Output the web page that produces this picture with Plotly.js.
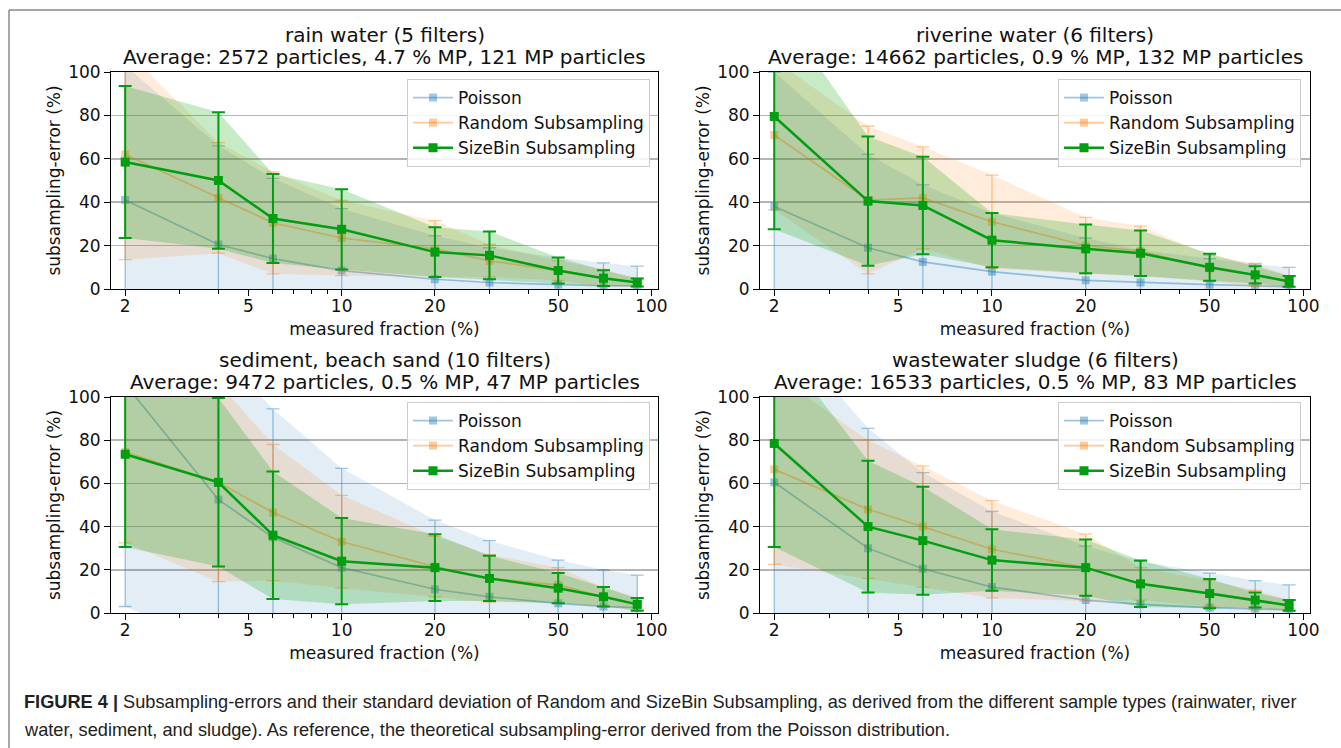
<!DOCTYPE html>
<html>
<head>
<meta charset="utf-8">
<script src="https://cdn.plot.ly/plotly-3.0.1.min.js"></script>
<style>
  html, body { margin: 0; padding: 0; background: #ffffff; }
  #fig { width: 1341px; height: 748px; }
</style>
</head>
<body>
<div id="fig"></div>
<script>
// measured fractions (%) shared by every panel
const fractions = [2, 4, 6, 10, 20, 30, 50, 70, 90];
const xTickValues = [2, 5, 10, 20, 50, 100];
const xTickLabels = ['2', '5', '10', '20', '50', '100'];
const xMinorTicks = [3, 4, 6, 7, 8, 9, 30, 40, 60, 70, 80, 90];
const yTickValues = [0, 20, 40, 60, 80, 100];
const seriesNames = ['Poisson', 'Random Subsampling', 'SizeBin Subsampling'];

const panelTitles = [
  'rain water (5 filters)',
  'riverine water (6 filters)',
  'sediment, beach sand (10 filters)',
  'wastewater sludge (6 filters)'
];
const panelSubtitles = [
  'Average: 2572 particles, 4.7 % MP, 121 MP particles',
  'Average: 14662 particles, 0.9 % MP, 132 MP particles',
  'Average: 9472 particles, 0.5 % MP, 47 MP particles',
  'Average: 16533 particles, 0.5 % MP, 83 MP particles'
];

// rain water: mean subsampling-error and standard deviation (%)
const rainPoissonMean = [41, 20.5, 14, 8.5, 4.5, 3, 2, 1.5, 1.5];
const rainPoissonStd = [62, 45.5, 37, 28.5, 20, 16, 12.5, 10.5, 9];
const rainRandomMean = [62, 42, 30.5, 23.5, 18.5, 13, 8.5, 5, 3];
const rainRandomStd = [48.5, 25.5, 23.5, 17.3, 13, 7.5, 4.5, 4, 2];
const rainSizeBinMean = [58.5, 50, 32.5, 27.5, 17, 15.5, 8.5, 5, 3];
const rainSizeBinStd = [35, 31.5, 20.5, 18.5, 11.5, 11, 6, 3.6, 1.8];

// riverine water
const riverPoissonMean = [38, 19, 12.5, 8, 4, 3, 2, 1.5, 1];
const riverPoissonStd = [62, 43, 35.5, 27, 19.5, 15, 12, 10, 9];
const riverRandomMean = [71, 41, 42, 31, 20, 17.5, 9.5, 6.5, 3.5];
const riverRandomStd = [34.5, 34, 23.5, 21.5, 13, 11.5, 6, 5.3, 2.5];
const riverSizeBinMean = [79.5, 40.5, 38.5, 22.5, 18.5, 16.5, 10, 6.5, 3.5];
const riverSizeBinStd = [52, 29.75, 22.5, 12.5, 11.25, 10.5, 6.25, 4, 2.5];

// sediment, beach sand
const sedimentPoissonMean = [106, 52.5, 35, 21, 11, 7.5, 4.5, 3, 2.5];
const sedimentPoissonStd = [103, 68, 59.5, 46, 32, 26, 20, 17, 15];
const sedimentRandomMean = [74.5, 60.5, 46.5, 33, 21.5, 16, 13, 7.5, 4];
const sedimentRandomStd = [42, 46, 31.5, 21.5, 14, 11, 8, 4.5, 2.5];
const sedimentSizeBinMean = [73.5, 60.5, 36, 24, 21, 16, 11.5, 7.5, 4];
const sedimentSizeBinStd = [43, 39, 29.5, 20, 15.5, 10.5, 7, 4.5, 3];

// wastewater sludge
const sludgePoissonMean = [60.5, 30, 20.5, 12, 6, 4, 2.5, 2, 1.5];
const sludgePoissonStd = [75, 55.5, 44.5, 35, 25, 20, 16, 13, 11.5];
const sludgeRandomMean = [66.5, 48, 40, 29.5, 21, 13.5, 9, 6, 3.5];
const sludgeRandomStd = [44, 32, 28, 22.5, 15.5, 7.5, 6, 4.5, 2.5];
const sludgeSizeBinMean = [78.5, 40, 33.5, 24.5, 21, 13.5, 9, 6, 3.5];
const sludgeSizeBinStd = [48, 30.5, 25, 14.25, 13, 10.75, 6.75, 3.5, 2.5];

const panelMeans = [
  [rainPoissonMean, rainRandomMean, rainSizeBinMean],
  [riverPoissonMean, riverRandomMean, riverSizeBinMean],
  [sedimentPoissonMean, sedimentRandomMean, sedimentSizeBinMean],
  [sludgePoissonMean, sludgeRandomMean, sludgeSizeBinMean]
];
const panelStds = [
  [rainPoissonStd, rainRandomStd, rainSizeBinStd],
  [riverPoissonStd, riverRandomStd, riverSizeBinStd],
  [sedimentPoissonStd, sedimentRandomStd, sedimentSizeBinStd],
  [sludgePoissonStd, sludgeRandomStd, sludgeSizeBinStd]
];

const captionLine1 = '<b>FIGURE 4 |</b> Subsampling-errors and their standard deviation of Random and SizeBin Subsampling, as derived from the different sample types (rainwater, river';
const captionLine2 = 'water, sediment, and sludge). As reference, the theoretical subsampling-error derived from the Poisson distribution.';

// ---- styling ----
const W = 1341, H = 748;
const seriesStyle = [
  { line: 'rgba(31,119,180,0.42)', fill: 'rgba(31,119,180,0.13)', width: 1.7, size: 8, bar: 1.3 },
  { line: 'rgba(255,127,14,0.42)', fill: 'rgba(255,127,14,0.15)', width: 1.7, size: 8, bar: 1.3 },
  { line: 'rgb(0,158,16)', fill: 'rgba(0,160,0,0.22)', width: 2.5, size: 9, bar: 2 }
];
const colPx = [[111, 658], [760, 1310]];
const rowPx = [[72, 289], [397, 613]];
const titlePx = [[35, 57], [360, 382]];
const legendPx = [[650, 1301], [79, 402]];
const textFont = 'DejaVu Sans, Verdana, sans-serif';

const px2x = v => v / W;
const px2y = v => 1 - v / H;

const traces = [];
const layout = {
  width: W, height: H,
  margin: { l: 0, r: 0, t: 0, b: 0 },
  paper_bgcolor: '#ffffff',
  plot_bgcolor: '#ffffff',
  font: { family: textFont, size: 17, color: '#111111' },
  annotations: [],
  shapes: [
    { type: 'line', xref: 'paper', yref: 'paper', x0: px2x(9), x1: 1, y0: px2y(10), y1: px2y(10),
      line: { color: '#8a8a8a', width: 1.5 } },
    { type: 'line', xref: 'paper', yref: 'paper', x0: px2x(9), x1: px2x(9), y0: 0, y1: px2y(10),
      line: { color: '#8a8a8a', width: 1.5 } }
  ]
};

for (let p = 0; p < 4; p++) {
  const col = p % 2, row = Math.floor(p / 2);
  const sfx = p === 0 ? '' : String(p + 1);
  const xa = 'x' + sfx, ya = 'y' + sfx;
  const legendId = p === 0 ? 'legend' : 'legend' + (p + 1);

  for (let s = 0; s < 3; s++) {
    const mean = panelMeans[p][s];
    const std = panelStds[p][s];
    const st = seriesStyle[s];
    const upper = mean.map((m, i) => m + std[i]);
    const lower = mean.map((m, i) => m - std[i]);
    // shaded ±1 standard deviation band
    traces.push({
      type: 'scatter', mode: 'lines', xaxis: xa, yaxis: ya,
      x: fractions.concat(fractions.slice().reverse()),
      y: upper.concat(lower.slice().reverse()),
      fill: 'toself', fillcolor: st.fill, line: { width: 0, color: st.fill },
      hoverinfo: 'skip', showlegend: false
    });
    // mean error with error bars
    traces.push({
      type: 'scatter', mode: 'lines+markers', xaxis: xa, yaxis: ya,
      name: seriesNames[s], legend: legendId, showlegend: true,
      x: fractions, y: mean,
      line: { color: st.line, width: st.width },
      marker: { symbol: 'square', size: st.size, color: st.line },
      error_y: { type: 'data', array: std, visible: true, color: st.line, thickness: st.bar, width: 6.5 }
    });
  }

  const xKey = 'xaxis' + sfx, yKey = 'yaxis' + sfx;
  layout[xKey] = {
    type: 'log', anchor: ya, domain: [px2x(colPx[col][0]), px2x(colPx[col][1])],
    range: [Math.log10(1.8), Math.log10(105)],
    tickmode: 'array', tickvals: xTickValues, ticktext: xTickLabels,
    ticks: 'outside', ticklen: 6, tickwidth: 1, tickcolor: '#000',
    ticklabelstandoff: -4,
    minor: { tickmode: 'array', tickvals: xMinorTicks, ticks: 'outside', ticklen: 3.5, tickwidth: 1, tickcolor: '#000', showgrid: false },
    showline: true, linecolor: '#000', linewidth: 1, mirror: true,
    showgrid: false, zeroline: false,
    tickfont: { size: 17 },
    title: { text: 'measured fraction (%)', font: { size: 17 }, standoff: 7 }
  };
  layout[yKey] = {
    anchor: xa, domain: [px2y(rowPx[row][1]), px2y(rowPx[row][0])],
    range: [0, 100], tickmode: 'array', tickvals: yTickValues,
    ticks: 'outside', ticklen: 6, tickwidth: 1, tickcolor: '#000',
    showline: true, linecolor: '#000', linewidth: 1, mirror: true,
    showgrid: true, gridcolor: '#b4b4b4', gridwidth: 1.6, zeroline: false,
    tickfont: { size: 17 },
    title: { text: 'subsampling-error (%)', font: { size: 17 }, standoff: 3 }
  };
  layout[legendId] = {
    x: px2x(legendPx[0][col]), y: px2y(legendPx[1][row]), xanchor: 'right', yanchor: 'top',
    bgcolor: 'rgba(255,255,255,0.85)', bordercolor: '#cccccc', borderwidth: 1,
    font: { size: 17 }, traceorder: 'normal', itemwidth: 40
  };
  const cx = px2x((colPx[col][0] + colPx[col][1]) / 2);
  layout.annotations.push(
    { xref: 'paper', yref: 'paper', x: cx, y: px2y(titlePx[row][0]), xanchor: 'center', yanchor: 'middle',
      text: panelTitles[p], showarrow: false, font: { size: 20 } },
    { xref: 'paper', yref: 'paper', x: cx, y: px2y(titlePx[row][1]), xanchor: 'center', yanchor: 'middle',
      text: panelSubtitles[p], showarrow: false, font: { size: 20 } }
  );
}

layout.annotations.push(
  { xref: 'paper', yref: 'paper', x: px2x(22), y: px2y(702), xanchor: 'left', yanchor: 'middle', align: 'left',
    text: captionLine1, showarrow: false, font: { family: 'Liberation Sans, Arial, sans-serif', size: 18.2, color: '#222222' } },
  { xref: 'paper', yref: 'paper', x: px2x(22), y: px2y(730), xanchor: 'left', yanchor: 'middle', align: 'left',
    text: captionLine2, showarrow: false, font: { family: 'Liberation Sans, Arial, sans-serif', size: 18.2, color: '#222222' } }
);

Plotly.newPlot('fig', traces, layout, { displayModeBar: false, staticPlot: true });
</script>
</body>
</html>
